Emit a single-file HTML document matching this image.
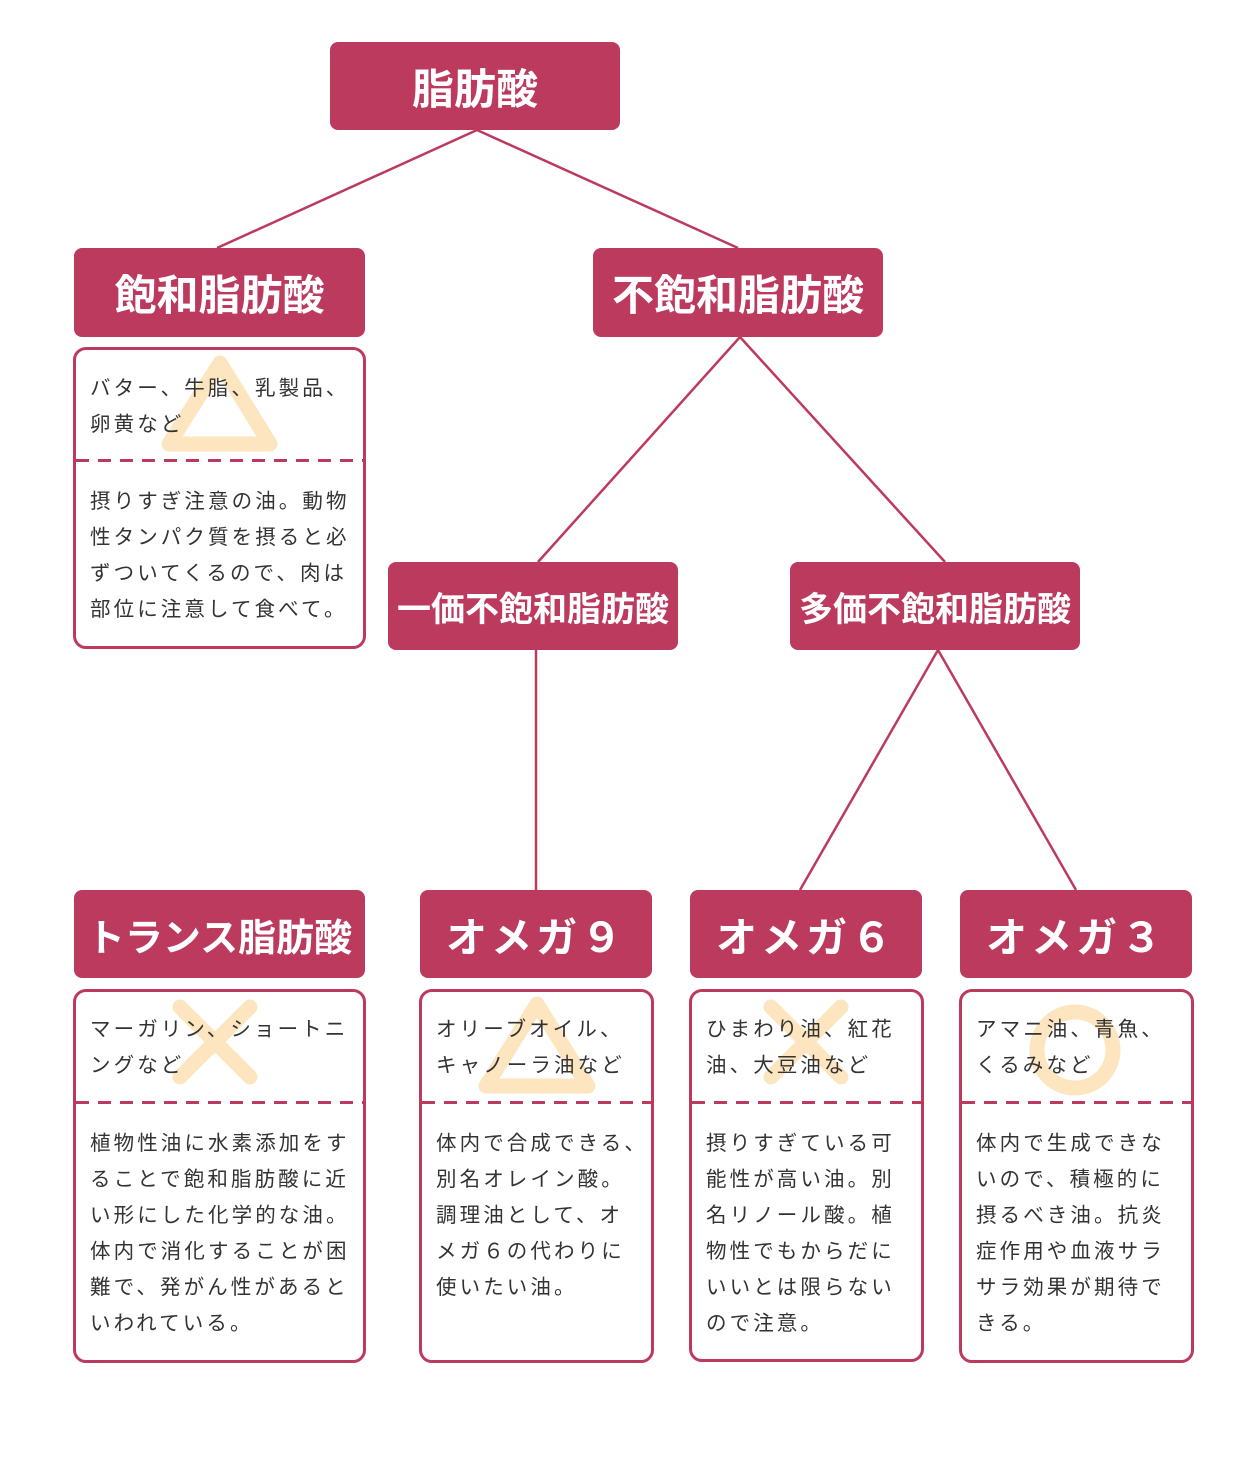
<!DOCTYPE html>
<html><head><meta charset="utf-8"><style>
body{margin:0;width:1260px;height:1460px;background:#fff;position:relative;font-family:"Liberation Sans","Noto Sans CJK JP",sans-serif;overflow:hidden}
.h{position:absolute;background:#BD3A5F;border-radius:8px;color:#fff;font-weight:bold;display:flex;align-items:center;justify-content:center;white-space:nowrap}
.b{position:absolute;border:3px solid #BD3A5F;border-radius:13px;box-sizing:border-box;background:transparent}
.t{position:absolute;font-size:20.5px;line-height:36px;color:#333;letter-spacing:3.1px;white-space:nowrap}
svg{position:absolute;left:0;top:0}
</style></head><body>
<svg width="1260" height="1460">
<g stroke="#BD3A5F" stroke-width="2.5" fill="none">
<line x1="477" y1="130" x2="217" y2="248"/><line x1="477" y1="130" x2="738" y2="248"/>
<line x1="740" y1="337" x2="538" y2="562"/><line x1="740" y1="337" x2="945" y2="562"/>
<line x1="536" y1="650" x2="536" y2="890"/>
<line x1="938" y1="650" x2="800" y2="890"/><line x1="938" y1="650" x2="1076" y2="890"/>
</g>
<g stroke="#FDE5BF" stroke-width="15" fill="none" stroke-linejoin="round" stroke-linecap="round">
<polygon points="220,363 169,444 270,444"/>
<polygon points="537,1004 486,1086 588,1086"/>
<line x1="180" y1="1007" x2="250" y2="1077"/><line x1="250" y1="1007" x2="180" y2="1077"/>
<line x1="771" y1="1007" x2="841" y2="1077"/><line x1="841" y1="1007" x2="771" y2="1077"/>
<circle cx="1075" cy="1050" r="38"/>
</g>
<g stroke="#BD3A5F" stroke-width="3" stroke-dasharray="13 9" fill="none">
<line x1="76" y1="460.5" x2="363" y2="460.5"/>
<line x1="76" y1="1102.5" x2="363" y2="1102.5"/>
<line x1="422" y1="1102.5" x2="651" y2="1102.5"/>
<line x1="692" y1="1102.5" x2="921" y2="1102.5"/>
<line x1="962" y1="1102.5" x2="1191" y2="1102.5"/>
</g>
</svg>
<div class="h" style="left:330px;top:42px;width:290px;height:88px;font-size:42px">脂肪酸</div>
<div class="h" style="left:74px;top:248px;width:291px;height:89px;font-size:42px">飽和脂肪酸</div>
<div class="h" style="left:593px;top:248px;width:290px;height:89px;font-size:42px">不飽和脂肪酸</div>
<div class="h" style="left:388px;top:562px;width:290px;height:88px;font-size:34px">一価不飽和脂肪酸</div>
<div class="h" style="left:790px;top:562px;width:290px;height:88px;font-size:34px">多価不飽和脂肪酸</div>
<div class="h" style="left:74px;top:890px;width:291px;height:88px;font-size:38px">トランス脂肪酸</div>
<div class="h" style="left:420px;top:890px;width:232px;height:88px;font-size:41px;letter-spacing:4px">オメガ９</div>
<div class="h" style="left:690px;top:890px;width:232px;height:88px;font-size:41px;letter-spacing:4px">オメガ６</div>
<div class="h" style="left:960px;top:890px;width:232px;height:88px;font-size:41px;letter-spacing:4px">オメガ３</div>

<div class="b" style="left:73px;top:347px;width:293px;height:302px"></div>
<div class="t" style="left:90px;top:371px">バター、牛脂、乳製品、<br>卵黄など</div>
<div class="t" style="left:90px;top:484px">摂りすぎ注意の油。動物<br>性タンパク質を摂ると必<br>ずついてくるので、肉は<br>部位に注意して食べて。</div>

<div class="b" style="left:73px;top:989px;width:293px;height:374px"></div>
<div class="t" style="left:90px;top:1012px">マーガリン、ショートニ<br>ングなど</div>
<div class="t" style="left:90px;top:1126px">植物性油に水素添加をす<br>ることで飽和脂肪酸に近<br>い形にした化学的な油。<br>体内で消化することが困<br>難で、発がん性があると<br>いわれている。</div>

<div class="b" style="left:419px;top:989px;width:235px;height:374px"></div>
<div class="t" style="left:436px;top:1012px">オリーブオイル、<br>キャノーラ油など</div>
<div class="t" style="left:436px;top:1126px">体内で合成できる、<br>別名オレイン酸。<br>調理油として、オ<br>メガ６の代わりに<br>使いたい油。</div>

<div class="b" style="left:689px;top:989px;width:235px;height:373px"></div>
<div class="t" style="left:706px;top:1012px">ひまわり油、紅花<br>油、大豆油など</div>
<div class="t" style="left:706px;top:1126px">摂りすぎている可<br>能性が高い油。別<br>名リノール酸。植<br>物性でもからだに<br>いいとは限らない<br>ので注意。</div>

<div class="b" style="left:959px;top:989px;width:235px;height:374px"></div>
<div class="t" style="left:976px;top:1012px">アマニ油、青魚、<br>くるみなど</div>
<div class="t" style="left:976px;top:1126px">体内で生成できな<br>いので、積極的に<br>摂るべき油。抗炎<br>症作用や血液サラ<br>サラ効果が期待で<br>きる。</div>
</body></html>
